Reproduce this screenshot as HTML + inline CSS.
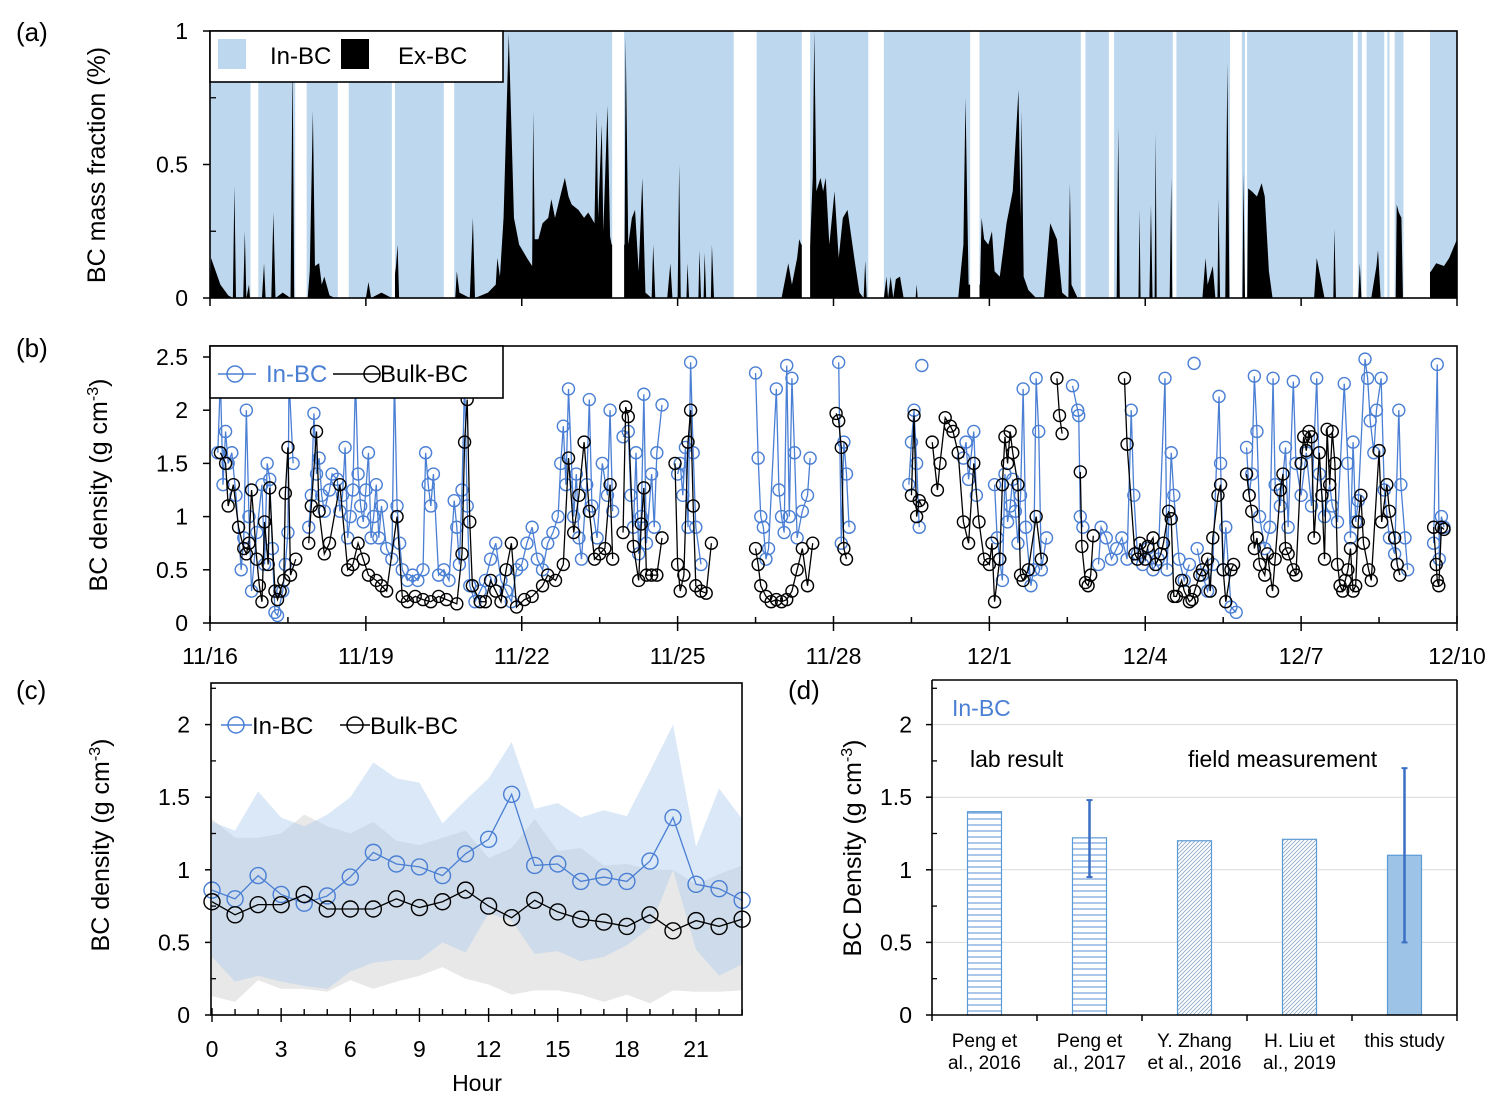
<!DOCTYPE html>
<html><head><meta charset="utf-8">
<style>
html,body{margin:0;padding:0;background:#fff;}
svg{display:block;font-family:"Liberation Sans",Arial,sans-serif;}
</style></head>
<body>
<svg id="fig" width="1505" height="1105" viewBox="0 0 1505 1105" xmlns="http://www.w3.org/2000/svg">
<defs>
<pattern id="hline" width="6" height="6" patternUnits="userSpaceOnUse"><rect width="6" height="6" fill="#fff"/><line x1="0" y1="3" x2="6" y2="3" stroke="#5b8fd6" stroke-width="1"/></pattern>
<pattern id="diag" width="4" height="4" patternUnits="userSpaceOnUse"><rect width="4" height="4" fill="#fff"/><path d="M0,4 L4,0 M-1,1 L1,-1 M3,5 L5,3" stroke="#8aa6c8" stroke-width="0.8"/></pattern>
<clipPath id="clipA"><rect x="210" y="31" width="1247" height="267"/></clipPath>
<clipPath id="clipB"><rect x="210" y="346" width="1247" height="277"/></clipPath>
</defs>
<g id="layer"></g>
</svg>
<script>
// ---------- Panel (a) data ----------
const exDays = [0,0.02,0.2,0.35,0.44,0.47,0.5,0.64,0.67,0.7,0.75,0.77,1.0,1.04,1.07,1.18,1.22,1.26,1.40,1.55,1.59,1.62,1.88,1.92,1.98,2.02,2.1,2.15,2.2,2.3,2.4,3.0,3.05,3.1,3.3,3.5,3.58,3.61,3.64,4.72,4.75,4.8,5.0,5.06,5.1,5.35,5.5,5.53,5.58,5.65,5.75,5.85,5.95,6.1,6.2,6.22,6.25,6.32,6.4,6.51,6.57,6.64,6.74,6.83,6.9,6.96,7.09,7.2,7.28,7.4,7.44,7.47,7.54,7.57,7.65,7.7,7.73,7.98,8.0,8.05,8.12,8.18,8.25,8.32,8.38,8.5,8.53,8.57,8.8,8.86,8.9,9.0,9.03,9.06,9.17,9.19,9.22,9.4,9.42,9.45,9.5,9.52,9.55,9.64,9.66,9.7,11.0,11.1,11.13,11.2,11.3,11.34,11.38,11.55,11.6,11.63,11.67,11.75,11.8,11.85,11.92,12.02,12.1,12.18,12.27,12.4,12.5,12.58,12.61,12.64,12.97,13.02,13.05,13.1,13.15,13.2,13.28,13.35,13.58,13.6,13.62,14.4,14.5,14.54,14.6,14.82,14.85,14.9,14.98,15.05,15.1,15.2,15.28,15.33,15.45,15.56,15.6,15.62,15.66,15.75,15.9,16.05,16.17,16.3,16.4,16.52,16.55,16.58,16.65,16.7,17.45,17.48,17.51,17.87,17.89,17.91,18.08,18.11,18.14,18.18,18.2,18.22,18.47,18.5,18.52,19.1,19.16,19.2,19.3,19.35,19.39,19.41,19.44,19.54,19.58,19.62,19.87,19.89,19.92,19.96,19.98,20.05,20.15,20.24,20.3,20.38,20.45,21.25,21.3,21.35,21.4,21.45,21.62,21.64,21.67,22.1,22.13,22.16,22.35,22.45,22.48,22.53,22.82,22.84,22.88,22.93,22.96,23.5,23.6,23.75,23.85,24.0];
const exValues = [0,0.15,0.05,0.01,0,0.42,0,0,0.25,0,0.05,0,0,0.13,0,0,0.32,0,0.02,0,0.9,0,0,0.1,0.7,0.12,0.13,0.05,0.08,0.01,0,0,0.06,0,0.02,0,0.12,0.2,0,0,0.1,0.02,0,0.3,0,0.02,0.05,0.15,0.08,0.3,0.99,0.3,0.2,0.15,0.12,0.7,0.22,0.22,0.28,0.3,0.37,0.3,0.38,0.45,0.38,0.35,0.33,0.3,0.32,0.28,0.7,0.3,0.65,0.25,0.72,0.23,0.2,0.2,0.98,0.2,0.3,0.33,0.1,0.45,0.02,0,0.2,0,0,0.13,0,0,0.5,0,0,0.13,0,0,0.18,0,0,0.17,0,0,0.2,0,0,0.1,0.13,0.05,0.15,0.22,0.2,0.2,0.45,1.0,0.4,0.45,0.4,0.45,0.2,0.4,0.15,0.3,0.33,0.15,0.02,0,0.14,0,0,0.08,0,0.08,0,0.07,0.08,0,0,0.05,0,0,0.2,0.75,0.05,0.05,0.3,0.22,0.2,0.25,0.1,0.08,0.2,0.28,0.4,0.78,0.3,0.7,0.08,0.03,0,0,0.28,0.22,0.02,0,0.43,0.05,0.02,0,0,0.64,0,0,0.33,0,0,0.35,0,0,0.62,0,0,0.45,0,0,0.15,0.05,0.12,0,0,0.37,0,0,0.88,0,0,0.47,0,0,0.41,0.4,0.38,0.43,0.38,0.1,0,0,0.15,0.1,0.05,0,0,0.26,0,0,0.13,0,0,0.12,0.18,0,0,0.35,0.32,0.3,0,0.1,0.13,0.12,0.15,0.22];
const gapStarts = [0.78,1.64,2.46,3.50,4.50,7.74,10.08,11.39,12.67,14.63,16.76,17.30,18.53,19.63,19.92,22.00,22.17,22.60,22.70,22.97];
const gapEnds   = [0.93,1.86,2.67,3.56,4.70,7.97,10.52,11.55,12.97,14.81,16.85,17.40,18.60,19.86,19.96,22.09,22.26,22.66,22.80,23.48];
const aTicks = [0,0.5,1];
const dateLabels = ["11/16","11/19","11/22","11/25","11/28","12/1","12/4","12/7","12/10"];

// ---------- Panel (b) data ----------
const inDays = [0.15,0.2,0.25,0.3,0.35,0.42,0.5,0.6,0.65,0.7,0.75,0.8,0.9,1.0,1.05,1.1,1.15,1.2,1.25,1.3,1.4,1.45,1.5,1.52,1.6,null,1.9,1.95,2.0,2.05,2.1,2.15,2.2,2.3,2.35,2.45,2.5,2.55,2.6,2.65,2.7,2.75,2.8,2.85,2.9,2.95,3.0,3.05,3.1,3.15,3.2,3.25,3.3,3.4,3.5,3.55,3.6,3.65,3.7,3.8,3.9,4.0,4.1,4.15,4.2,4.25,4.3,4.4,4.5,4.6,4.7,4.75,4.8,4.85,4.9,4.95,5.0,5.1,5.2,5.3,5.4,5.5,5.6,5.7,5.8,5.9,6.0,6.1,6.2,6.3,6.4,6.5,6.6,6.7,6.75,6.8,6.85,6.9,7.0,7.05,7.1,7.15,7.25,7.3,7.35,7.45,7.55,7.65,7.7,7.75,null,7.95,8.05,8.1,8.15,8.2,8.25,8.3,8.35,8.4,8.5,8.55,8.6,8.7,null,9.0,9.05,9.1,9.15,9.2,9.25,9.3,9.35,9.45,null,10.5,10.55,10.6,10.65,10.7,10.75,10.9,10.95,11.0,11.05,11.1,11.15,11.2,11.25,11.3,11.4,11.5,11.55,null,12.1,12.15,12.2,12.25,12.3,null,13.45,13.5,13.55,13.6,13.65,null,13.7,null,14.5,14.55,14.6,14.7,14.75,null,15.1,15.15,15.2,15.25,15.3,15.35,15.4,15.45,15.5,15.55,15.6,15.65,15.7,15.8,15.85,15.9,15.95,16.0,16.1,null,16.6,16.7,16.72,16.75,16.8,null,17.1,17.15,17.25,17.35,17.45,17.55,17.65,17.73,17.78,17.85,17.95,18.05,18.15,18.25,18.38,18.42,18.5,18.55,18.65,18.75,18.85,null,18.94,null,19.0,19.1,19.2,19.3,19.42,19.45,19.5,19.55,19.65,19.75,null,19.95,20.0,20.05,20.1,20.15,20.2,20.3,20.4,20.46,20.5,20.6,20.7,20.75,20.85,20.9,21.0,21.1,21.2,21.3,21.35,21.45,21.55,21.6,21.7,21.83,21.9,21.95,22.0,22.05,22.1,22.23,22.28,22.33,22.4,22.45,22.54,22.6,22.7,22.8,22.88,22.92,23.0,23.05,null,23.55,23.62,23.66,23.7,23.75];
const inValues = [1.6,2.3,1.3,1.8,1.5,1.6,1.2,0.5,0.8,2.0,1.0,0.3,0.85,1.3,0.55,1.5,1.35,0.7,0.1,0.07,0.3,0.55,0.85,2.3,1.5,null,0.9,1.2,1.97,1.4,1.55,1.2,1.05,1.25,1.4,1.35,1.05,1.2,1.65,0.8,1.0,1.25,2.3,1.4,1.1,0.95,1.25,1.6,0.8,1.0,1.3,0.8,1.1,0.7,0.6,2.3,1.1,0.75,0.5,0.4,0.45,0.4,0.5,1.6,1.3,1.1,1.4,0.45,0.5,0.4,1.15,0.9,0.55,1.25,2.3,1.1,0.35,0.2,0.3,0.4,0.6,0.75,0.4,0.3,0.2,0.5,0.55,0.75,0.9,0.6,0.5,0.75,0.85,1.0,1.5,1.85,1.3,2.2,1.0,1.4,0.8,0.6,1.3,2.1,1.1,0.8,1.5,1.2,2.0,1.05,null,1.75,1.8,1.2,0.9,1.6,0.65,1.0,2.15,0.75,1.4,0.9,1.6,2.05,null,1.4,1.5,1.2,1.65,0.9,2.45,1.6,0.9,0.55,null,2.35,1.55,1.0,0.9,0.6,0.7,2.2,1.25,1.0,0.85,2.42,1.0,2.3,1.6,0.8,1.05,1.2,1.55,null,2.45,0.75,1.7,1.4,0.9,null,1.3,1.7,2.0,1.5,0.9,null,2.42,null,1.55,1.7,1.35,1.8,1.2,null,1.3,0.8,0.6,0.4,1.4,0.95,1.1,1.35,1.05,0.75,1.2,2.2,0.9,0.35,0.5,2.3,1.8,0.5,0.8,null,2.23,2.0,1.95,1.0,0.9,null,0.55,0.9,0.8,0.6,0.7,0.8,0.6,2.0,1.2,0.65,0.55,0.7,0.5,0.6,2.3,0.5,1.6,1.2,0.6,0.4,0.55,null,2.44,null,0.7,0.45,0.3,0.55,2.13,1.5,0.5,0.9,0.15,0.1,null,1.65,1.2,1.4,2.32,1.8,1.0,0.7,0.9,2.3,1.3,1.1,1.65,0.9,2.27,1.5,1.2,1.6,1.1,2.3,1.4,1.0,1.3,1.1,0.95,2.25,1.5,0.8,1.7,0.95,1.15,2.48,2.3,1.9,1.6,2.0,2.3,1.25,0.8,0.65,2.0,1.3,0.8,0.5,null,0.75,2.43,0.6,1.0,0.9];
const bulkDays = [0.2,0.3,0.35,0.45,0.55,0.65,0.7,0.75,0.8,0.9,0.95,1.0,1.05,1.12,1.15,1.25,1.3,1.35,1.42,1.45,1.5,1.55,1.65,null,1.9,1.95,2.05,2.1,2.2,2.3,2.5,2.65,2.75,2.85,2.95,3.05,3.2,3.3,3.4,3.6,3.7,3.8,3.95,4.1,4.25,4.4,4.55,4.75,4.85,4.9,4.95,5.0,5.05,5.2,5.3,5.4,5.5,5.6,5.7,5.8,5.9,6.05,6.2,6.4,6.5,6.65,6.8,6.9,7.0,7.1,7.2,7.3,7.4,7.5,7.6,7.7,7.75,null,7.95,8.0,8.05,8.15,8.25,8.3,8.35,8.4,8.5,8.6,8.7,null,8.95,9.0,9.05,9.12,9.2,9.25,9.3,9.35,9.45,9.55,9.65,null,10.5,10.55,10.6,10.7,10.8,10.9,11.0,11.1,11.2,11.3,11.4,11.5,11.6,null,12.05,12.1,12.15,12.2,12.25,null,13.5,13.55,13.6,13.65,13.7,null,13.9,14.0,14.05,14.15,14.25,14.3,14.4,14.5,14.6,14.7,14.8,14.9,15.0,15.05,15.1,15.2,15.25,15.3,15.35,15.4,15.45,15.55,15.6,15.65,15.75,15.9,16.0,null,16.3,16.35,16.4,null,16.75,16.78,16.85,16.9,16.95,17.0,null,17.6,17.65,17.8,17.85,17.9,18.0,18.05,18.15,18.2,18.3,18.35,18.45,18.5,18.55,18.6,18.7,18.75,18.85,18.9,18.95,19.05,19.1,19.2,19.25,19.3,19.4,19.45,19.5,19.55,19.65,19.7,null,19.95,20.0,20.05,20.1,20.15,20.2,20.3,20.35,20.45,20.5,20.6,20.65,20.7,20.75,20.85,20.9,21.0,21.05,21.1,21.15,21.2,21.25,21.35,21.4,21.45,21.5,21.55,21.6,21.65,21.7,21.75,21.8,21.85,21.9,21.95,22.0,22.05,22.1,22.15,22.2,22.3,22.35,22.5,22.55,22.65,22.7,22.8,22.85,22.9,null,23.55,23.6,23.62,23.65,23.7,23.75];
const bulkValues = [1.6,1.5,1.1,1.3,0.9,0.7,0.65,0.75,1.25,0.6,0.35,0.2,0.95,0.55,1.27,0.3,0.22,0.3,0.4,1.22,1.65,0.45,0.6,null,0.75,1.1,1.8,1.05,0.65,0.75,1.3,0.5,0.55,0.75,0.6,0.45,0.4,0.35,0.3,1.0,0.25,0.2,0.25,0.22,0.2,0.25,0.22,0.18,0.65,1.7,2.1,0.95,0.35,0.2,0.2,0.4,0.3,0.2,0.5,0.75,0.15,0.22,0.25,0.35,0.45,0.4,0.55,1.55,0.85,1.2,1.7,1.05,0.6,0.65,0.7,1.3,0.6,null,0.85,2.03,1.94,0.72,0.4,0.93,1.27,0.45,0.45,0.45,0.8,null,1.5,0.55,0.3,0.45,1.7,2.0,1.1,0.35,0.3,0.28,0.75,null,0.7,0.55,0.35,0.25,0.2,0.22,0.2,0.22,0.3,0.5,0.7,0.35,0.75,null,1.97,1.9,1.65,0.7,0.6,null,1.2,1.95,1.0,1.15,1.1,null,1.7,1.25,1.5,1.93,1.85,1.8,1.6,0.95,0.75,1.5,0.95,0.6,0.55,0.75,0.2,0.6,1.3,1.75,1.5,1.8,1.6,1.3,0.45,0.4,0.5,1.0,0.6,null,2.3,1.95,1.78,null,1.42,0.72,0.38,0.35,0.45,0.82,null,2.3,1.68,0.65,0.6,0.75,0.6,0.72,0.8,0.55,0.65,0.75,1.05,0.98,0.25,0.25,0.4,0.3,0.2,0.22,0.3,0.45,0.5,0.6,0.3,0.8,1.2,1.3,0.5,0.2,0.5,0.55,null,1.4,1.2,1.05,0.7,0.8,0.55,0.45,0.65,0.3,0.6,1.25,1.4,0.7,0.65,0.5,0.45,1.5,1.75,1.62,1.8,1.75,0.8,1.6,1.2,0.6,1.82,1.3,1.8,1.5,0.55,0.35,0.3,0.4,0.5,0.7,0.3,0.35,0.95,1.2,0.75,0.5,0.4,1.62,0.95,1.3,1.05,0.8,0.55,0.45,null,0.9,0.55,0.4,0.35,0.9,0.88];
const bTicks = [0,0.5,1,1.5,2,2.5];

// ---------- Panel (c) data ----------
const hours = [0,1,2,3,4,5,6,7,8,9,10,11,12,13,14,15,16,17,18,19,20,21,22,23];
const inMean = [0.86,0.80,0.96,0.83,0.77,0.82,0.95,1.12,1.04,1.02,0.96,1.11,1.21,1.52,1.03,1.04,0.92,0.95,0.92,1.06,1.36,0.90,0.87,0.79];
const bulkMean = [0.78,0.69,0.76,0.76,0.83,0.73,0.73,0.73,0.80,0.74,0.78,0.86,0.75,0.67,0.79,0.71,0.66,0.64,0.61,0.69,0.58,0.65,0.61,0.66];
const inUpper = [1.33,1.27,1.54,1.36,1.30,1.38,1.50,1.74,1.63,1.60,1.32,1.48,1.63,1.88,1.42,1.46,1.36,1.41,1.37,1.68,2.00,1.16,1.56,1.35];
const inLower = [0.40,0.23,0.27,0.23,0.20,0.18,0.30,0.36,0.38,0.38,0.50,0.43,0.70,0.65,0.42,0.44,0.37,0.40,0.48,0.60,1.00,0.45,0.27,0.35];
const bulkUpper = [1.35,1.22,1.22,1.25,1.38,1.30,1.25,1.33,1.20,1.17,1.22,1.27,1.08,1.15,1.35,1.13,1.15,1.03,1.04,1.00,1.00,0.90,0.97,1.03];
const bulkLower = [0.13,0.09,0.24,0.18,0.18,0.16,0.24,0.18,0.23,0.27,0.33,0.25,0.21,0.14,0.17,0.17,0.14,0.09,0.14,0.08,0.17,0.16,0.16,0.17];
const cTicks = [0,0.5,1,1.5,2];
const hourLabels = [0,3,6,9,12,15,18,21];

// ---------- Panel (d) data ----------
const studies = ["Peng  et|al., 2016","Peng et|al., 2017","Y. Zhang|et al., 2016","H. Liu et|al., 2019","this study"];
const studyValues = [1.40,1.22,1.20,1.21,1.10];
const errLow = [null,0.95,null,null,0.50];
const errHigh = [null,1.48,null,null,1.70];
const studyFill = ["url(#hline)","url(#hline)","url(#diag)","url(#diag)","#9dc3e6"];

const NS = "http://www.w3.org/2000/svg";
const layer = document.getElementById('layer');
function mk(tag, attrs, parent){
  const e = document.createElementNS(NS, tag);
  for (const k in attrs) e.setAttribute(k, attrs[k]);
  (parent||layer).appendChild(e);
  return e;
}
function txt(s, x, y, size, anchor, fill, parent){
  const t = mk('text', {x:x, y:y, 'font-size':size, 'text-anchor':anchor||'start', fill:fill||'#000'}, parent);
  t.textContent = s;
  return t;
}
const BLUE = '#4a7fd4';
const TS = 23;

// ---------- scales ----------
const X0 = 210, X1 = 1457, DAYS = 24;
const xT = d => X0 + d * (X1 - X0) / DAYS;
const yA = v => 298 - v * 267;
const yB = v => 623 - v * 106.4;
const xC = h => 212 + h * 23.05;
const yC = v => 1015 - v * 145.2;
const yD = v => 1015 - v * 145.2;

// ===== Panel (a) =====
const gA = mk('g', {'clip-path':'url(#clipA)'});


let inPts = exDays.map((d,i)=> xT(d)+','+yA(1)).join(' ');
const inArea = mk('polygon', {points: xT(exDays[0])+','+yA(0)+' '+inPts+' '+xT(exDays[exDays.length-1])+','+yA(0), fill:'#bdd7ee'}, gA);


let exPts = exDays.map((d,i)=> xT(d)+','+yA(exValues[i])).join(' ');
const exArea = mk('polygon', {points: xT(exDays[0])+','+yA(0)+' '+exPts+' '+xT(exDays[exDays.length-1])+','+yA(0), fill:'#000'}, gA);


gapStarts.forEach((s,i)=>{
  const r = mk('rect', {x:xT(s), y:yA(1), width:xT(gapEnds[i])-xT(s), height:yA(0)-yA(1), fill:'#fff'}, gA);
  
  
});
mk('rect', {x:210, y:31, width:1247, height:267, fill:'none', stroke:'#000', 'stroke-width':1.6});
aTicks.forEach(v=>{
  mk('line', {x1:203, x2:210, y1:yA(v), y2:yA(v), stroke:'#000', 'stroke-width':1.5});
  const t = txt(String(v), 188, yA(v)+8, TS, 'end');
  
  
});
[0.25,0.75].forEach(v=> mk('line', {x1:210, x2:216, y1:yA(v), y2:yA(v), stroke:'#000', 'stroke-width':1.3}));
for (let d=0; d<=DAYS; d+=3) mk('line', {x1:xT(d), x2:xT(d), y1:298, y2:306, stroke:'#000', 'stroke-width':1.5});
const legA = mk('g', {});


mk('rect', {x:210, y:31, width:293, height:51, fill:'#fff', stroke:'#000', 'stroke-width':1.6}, legA);
mk('rect', {x:218, y:39, width:28, height:30, fill:'#bdd7ee'}, legA);
txt('In-BC', 270, 64, 24, 'start', '#000', legA);
mk('rect', {x:341, y:39, width:28, height:30, fill:'#000'}, legA);
txt('Ex-BC', 398, 64, 24, 'start', '#000', legA);

// ===== Panel (b) =====
const gB = mk('g', {'clip-path':'url(#clipB)'});


function series(days, vals, color, name, r, parent, xs, ys){
  const g = mk('g', {}, parent);
  
  
  let seg = [];
  const flush = ()=>{ if (seg.length>1){ const pl = mk('polyline', {points:seg.join(' '), fill:'none', stroke:color, 'stroke-width':1.3}, g);
      
       } seg=[]; };
  days.forEach((d,i)=>{ if (d===null || vals[i]===null){ flush(); return; } seg.push(xs(d)+','+ys(vals[i])); });
  flush();
  days.forEach((d,i)=>{ if (d===null || vals[i]===null) return;
    const c = mk('circle', {cx:xs(d), cy:ys(vals[i]), r:r, fill:'none', stroke:color, 'stroke-width':1.4}, g);
    
    
  });
}
series(inDays, inValues, BLUE, 'in-bc-series', 6, gB, xT, yB);
series(bulkDays, bulkValues, '#000', 'bulk-bc-series', 6, gB, xT, yB);
mk('rect', {x:210, y:346, width:1247, height:277, fill:'none', stroke:'#000', 'stroke-width':1.6});
bTicks.forEach(v=>{
  mk('line', {x1:203, x2:210, y1:yB(v), y2:yB(v), stroke:'#000', 'stroke-width':1.5});
  const t = txt(String(v), 188, yB(v)+8, TS, 'end');
  
  
});
for (let d=0; d<=DAYS; d+=1.5){
  const major = (d % 3 === 0);
  mk('line', {x1:xT(d), x2:xT(d), y1: major?616:617, y2: major?631:623, stroke:'#000', 'stroke-width':1.5});
}
dateLabels.forEach((s,i)=>{
  const t = txt(s, xT(i*3), 664, TS, 'middle');
  
  
});
const legB = mk('g', {});


mk('rect', {x:210, y:346, width:293, height:52, fill:'#fff', stroke:'#000', 'stroke-width':1.6}, legB);
mk('line', {x1:218, x2:256, y1:374, y2:374, stroke:BLUE, 'stroke-width':1.5}, legB);
mk('circle', {cx:235, cy:374, r:8, fill:'none', stroke:BLUE, 'stroke-width':1.5}, legB);
txt('In-BC', 266, 382, 24, 'start', BLUE, legB);
mk('line', {x1:333, x2:380, y1:374, y2:374, stroke:'#000', 'stroke-width':1.5}, legB);
mk('circle', {cx:372, cy:374, r:8, fill:'none', stroke:'#000', 'stroke-width':1.5}, legB);
txt('Bulk-BC', 380, 382, 24, 'start', '#000', legB);

// ===== Panel (c) =====
function band(up, lo, fill, name){
  const pts = hours.map((h,i)=> xC(h)+','+yC(up[i])).concat(hours.slice().reverse().map((h,j)=>{ const i = hours.length-1-j; return xC(h)+','+yC(lo[i]); }));
  const p = mk('polygon', {points:pts.join(' '), fill:fill});
  
  
}
band(bulkUpper, bulkLower, 'rgba(205,205,205,0.45)', 'bulk-bc-range');
band(inUpper, inLower, 'rgba(170,200,235,0.42)', 'in-bc-range');
series(hours, inMean, BLUE, 'in-bc-diurnal', 8, layer, xC, yC);
series(hours, bulkMean, '#000', 'bulk-bc-diurnal', 8, layer, xC, yC);
mk('rect', {x:211, y:683, width:531, height:332, fill:'none', stroke:'#000', 'stroke-width':1.6});
cTicks.forEach(v=>{
  mk('line', {x1:205, x2:211, y1:yC(v), y2:yC(v), stroke:'#000', 'stroke-width':1.5});
  const t = txt(String(v), 190, yC(v)+8, TS, 'end');
  
  
});
[0.25,0.75,1.25,1.75,2.25].forEach(v=> mk('line', {x1:211, x2:216, y1:yC(v), y2:yC(v), stroke:'#000', 'stroke-width':1.3}));
hours.forEach(h=>{ const maj = h%3===0; mk('line', {x1:xC(h), x2:xC(h), y1: maj?1008:1009, y2: maj?1022:1015, stroke:'#000', 'stroke-width':1.4}); });
hourLabels.forEach(h=>{
  const t = txt(String(h), xC(h), 1057, TS, 'middle');
  
  
});
const hl = txt('Hour', 477, 1091, TS, 'middle');


const legC = mk('g', {});


mk('line', {x1:221, x2:252, y1:725, y2:725, stroke:BLUE, 'stroke-width':1.5}, legC);
mk('circle', {cx:236, cy:725, r:8, fill:'none', stroke:BLUE, 'stroke-width':1.5}, legC);
txt('In-BC', 252, 734, 24, 'start', '#000', legC);
mk('line', {x1:340, x2:370, y1:725, y2:725, stroke:'#000', 'stroke-width':1.5}, legC);
mk('circle', {cx:355, cy:725, r:8, fill:'none', stroke:'#000', 'stroke-width':1.5}, legC);
txt('Bulk-BC', 370, 734, 24, 'start', '#000', legC);

// ===== Panel (d) =====
const DX0 = 932, DX1 = 1457, bw = (DX1-DX0)/studies.length;
[0.5,1,1.5,2].forEach(v=> mk('line', {x1:DX0, x2:DX1, y1:yD(v), y2:yD(v), stroke:'#d9d9d9', 'stroke-width':1}));
studies.forEach((s,i)=>{
  const cx = DX0 + bw*(i+0.5);
  const b = mk('rect', {x:cx-17, y:yD(studyValues[i]), width:34, height:yD(0)-yD(studyValues[i]), fill:studyFill[i], stroke:'#5b9bd5', 'stroke-width':1.2});
  
  
  if (errLow[i] !== null){
    const e = mk('line', {x1:cx, x2:cx, y1:yD(errLow[i]), y2:yD(errHigh[i]), stroke:'#3a6fc4', 'stroke-width':2.5});
    
    
    mk('line', {x1:cx-3, x2:cx+3, y1:yD(errLow[i]), y2:yD(errLow[i]), stroke:'#3a6fc4', 'stroke-width':2});
    mk('line', {x1:cx-3, x2:cx+3, y1:yD(errHigh[i]), y2:yD(errHigh[i]), stroke:'#3a6fc4', 'stroke-width':2});
  }
  const parts = s.split('|');
  parts.forEach((p,k)=>{
    const t = txt(p, cx, 1047 + k*22, 19, 'middle');
    
    
  });
});
mk('line', {x1:DX0, x2:DX0, y1:680, y2:1015, stroke:'#000', 'stroke-width':1.6});
mk('line', {x1:DX1, x2:DX1, y1:680, y2:1015, stroke:'#000', 'stroke-width':1.6});
mk('line', {x1:DX0, x2:DX1, y1:680, y2:680, stroke:'#000', 'stroke-width':1.6});
mk('line', {x1:DX0, x2:DX1, y1:1015, y2:1015, stroke:'#000', 'stroke-width':1.6});
for (let i=0;i<=studies.length;i++) mk('line', {x1:DX0+bw*i, x2:DX0+bw*i, y1:1015, y2:1021, stroke:'#000', 'stroke-width':1.5});
cTicks.forEach(v=>{
  mk('line', {x1:926, x2:932, y1:yD(v), y2:yD(v), stroke:'#000', 'stroke-width':1.5});
  const t = txt(String(v), 912, yD(v)+8, TS, 'end');
  
  
});
[0.25,0.75,1.25,1.75,2.25].forEach(v=> mk('line', {x1:932, x2:937, y1:yD(v), y2:yD(v), stroke:'#000', 'stroke-width':1.3}));
</script>
<div style="position:absolute;left:0;top:0;width:1505px;height:1105px;pointer-events:none;">
<svg width="1505" height="1105" style="position:absolute;left:0;top:0;font-family:'Liberation Sans',Arial,sans-serif;">
<text x="16" y="41" font-size="26">(a)</text>
<text x="16" y="357" font-size="26">(b)</text>
<text x="16" y="699" font-size="26">(c)</text>
<text x="788" y="699" font-size="26">(d)</text>
<text transform="translate(105,165) rotate(-90)" font-size="25" text-anchor="middle">BC mass fraction (%)</text>
<text transform="translate(107,485) rotate(-90)" font-size="25" text-anchor="middle">BC density (g cm<tspan dy="-9" font-size="16">-3</tspan><tspan dy="9">)</tspan></text>
<text transform="translate(109,845) rotate(-90)" font-size="25" text-anchor="middle">BC density (g cm<tspan dy="-9" font-size="16">-3</tspan><tspan dy="9">)</tspan></text>
<text transform="translate(861,848) rotate(-90)" font-size="25" text-anchor="middle">BC Density (g cm<tspan dy="-9" font-size="16">-3</tspan><tspan dy="9">)</tspan></text>
<text x="952" y="716" font-size="23" fill="#4a7fd4">In-BC</text>
<text x="970" y="767" font-size="23">lab result</text>
<text x="1188" y="767" font-size="23">field measurement</text>
</svg>
</div>
</body></html>
